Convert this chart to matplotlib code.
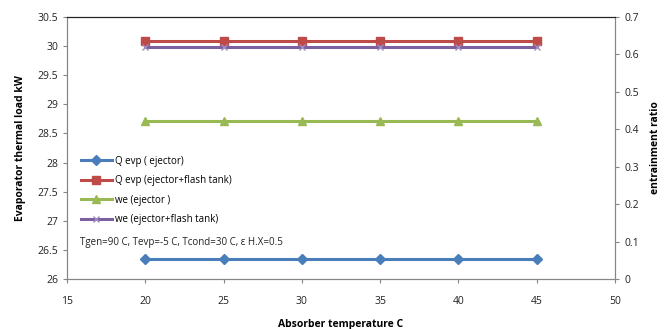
import matplotlib
matplotlib.use("Agg")
import matplotlib.pyplot as plt

plt.rcParams['font.family'] = ['Open Sans', 'DejaVu Sans']

x = [20, 25, 30, 35, 40, 45]
qevp_ejector = [26.35, 26.35, 26.35, 26.35, 26.35, 26.35]
qevp_flash = [30.08, 30.08, 30.08, 30.08, 30.08, 30.08]
we_ejector = [0.422, 0.422, 0.422, 0.422, 0.422, 0.422]
we_flash = [0.62, 0.62, 0.62, 0.62, 0.62, 0.62]
labels = ['Q evp ( ejector)', 'Q evp (ejector+flash tank)', 'we (ejector )', 'we (ejector+flash tank)']

fig = plt.figure(figsize=(6.71, 3.29), dpi=100)
ax = fig.add_axes([67/671, 1-279/329, (615-67)/671, (279-17)/329])
ax2 = ax.twinx()

h1, = ax.plot(x, qevp_ejector, color='#4A7EBB', lw=2.2, marker='D', ms=5, label=labels[0])
h2, = ax.plot(x, qevp_flash, color='#BE4B48', lw=2.2, marker='s', ms=6, label=labels[1])
h3, = ax2.plot(x, we_ejector, color='#98B954', lw=2.2, marker='^', ms=6, label=labels[2])
h4, = ax2.plot(x, we_flash, color='#7D60A0', lw=2.2, marker='x', ms=5, mew=1.0, mec='#A08CC0', label=labels[3])

ax.set_xlim(15, 50)
ax.set_ylim(26, 30.5)
ax2.set_ylim(0, 0.7)
ax.set_xticks(range(15, 51, 5))
ax.set_yticks([26, 26.5, 27, 27.5, 28, 28.5, 29, 29.5, 30, 30.5])
ax.set_yticklabels(['26', '26.5', '27', '27.5', '28', '28.5', '29', '29.5', '30', '30.5'])
ax2.set_yticks([0, 0.1, 0.2, 0.3, 0.4, 0.5, 0.6, 0.7])
ax2.set_yticklabels(['0', '0.1', '0.2', '0.3', '0.4', '0.5', '0.6', '0.7'])

for a in (ax, ax2):
    for s in ['left', 'right', 'bottom']:
        a.spines[s].set_color('#868686')
    a.spines['top'].set_color('#222222')
    a.tick_params(colors='#868686', labelcolor='#222222', labelsize=7.5, length=3, width=0.8)
ax.tick_params(axis='x', pad=9)

ax.set_xlabel('Absorber temperature C', fontsize=7.5, fontweight='bold', labelpad=9)
ax.set_ylabel('Evaporator thermal load kW', fontsize=7.5, fontweight='bold', labelpad=8)
ax2.set_ylabel('entrainment ratio', fontsize=7.5, fontweight='bold', labelpad=8)

leg = ax.legend(handles=[h1, h2, h3, h4], loc='upper left', bbox_to_anchor=(72/671, 1-147/329),
                bbox_transform=fig.transFigure, frameon=False, fontsize=7,
                handlelength=3.2, handletextpad=0.3, labelspacing=0.88)

ax.text(80/671, 1-243/329, 'Tgen=90 C, Tevp=-5 C, Tcond=30 C, ε H.X=0.5',
        transform=fig.transFigure, fontsize=7, va='center', ha='left', color='#222222')

fig.savefig('out.png', dpi=100)
